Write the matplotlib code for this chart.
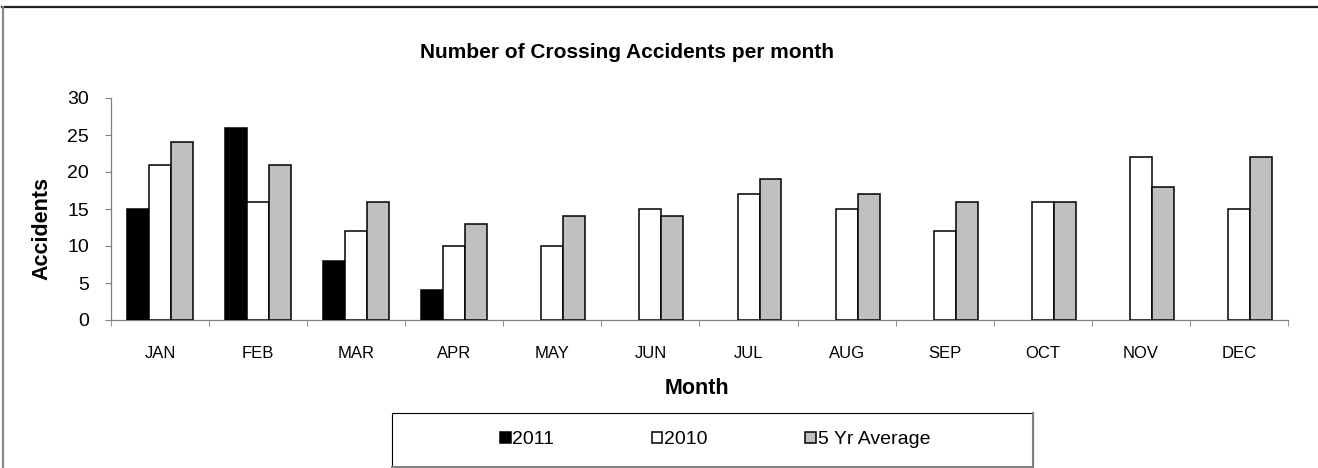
import numpy as np
import matplotlib
matplotlib.use("Agg")
import matplotlib.pyplot as plt
from matplotlib.patches import Rectangle
from matplotlib.lines import Line2D

plt.rcParams['font.family'] = ['Liberation Sans', 'DejaVu Sans']

# data
months = ['JAN', 'FEB', 'MAR', 'APR', 'MAY', 'JUN', 'JUL', 'AUG', 'SEP', 'OCT', 'NOV', 'DEC']
y2011 = [15, 26, 8, 4, None, None, None, None, None, None, None, None]
y2010 = [21, 16, 12, 10, 10, 15, 17, 15, 12, 16, 22, 15]
avg5 = [24, 21, 16, 13, 14, 14, 19, 17, 16, 16, 18, 22]
series_names = ['2011', '2010', '5 Yr Average']

W, H = 1318, 468
fig = plt.figure(figsize=(W / 100, H / 100), dpi=100)

def fx(px):
    return px / W

def fy(py):
    return 1 - py / H

ax = fig.add_axes([fx(111), fy(320), fx(1288) - fx(111), fy(98) - fy(320)])

x = np.arange(len(months))
bw = 0.224
vals = [np.array([np.nan if v is None else v for v in s], dtype=float) for s in (y2011, y2010, avg5)]
colors = ['black', 'white', '#C0C0C0']
bars = []
for i, (v, c) in enumerate(zip(vals, colors)):
    b = ax.bar(x + (i - 1) * bw, v, bw, color=c, edgecolor='black', linewidth=1.1,
               label=series_names[i], zorder=3)
    bars.append(b)

ax.set_xlim(-0.5, len(months) - 0.5)
ax.set_ylim(0, 30)
ax.set_yticks(range(0, 31, 5))
ax.set_xticks(x)
ax.set_xticklabels(months)
ax.set_xticks(np.arange(-0.5, len(months)), minor=True)

for s in ['top', 'right']:
    ax.spines[s].set_visible(False)
for s in ['left', 'bottom']:
    ax.spines[s].set_color('#808080')
    ax.spines[s].set_linewidth(0.9)

ax.tick_params(axis='x', which='major', length=0, pad=19, labelsize=12)
ax.tick_params(axis='x', which='minor', length=4, color='#808080', direction='out')
ax.tick_params(axis='y', length=4, color='#808080', direction='out', pad=12, labelsize=14)

# titles
fig.text(fx(627), fy(53), 'Number of Crossing Accidents per month', ha='center', va='center',
         fontsize=15, fontweight='bold')
fig.text(fx(697), fy(388), 'Month', ha='center', va='center', fontsize=15.5, fontweight='bold')
fig.text(fx(42), fy(228), 'Accidents', ha='center', va='center', rotation=90,
         fontsize=15.5, fontweight='bold')

# legend box
fig.patches.append(Rectangle((fx(392), fy(467)), fx(1033) - fx(392), fy(413) - fy(467),
                             transform=fig.transFigure, facecolor='white', edgecolor='black',
                             linewidth=0.8, zorder=1))
fig.lines.append(Line2D([fx(1033), fx(1033), fx(392)], [fy(413), fy(467), fy(467)],
                        transform=fig.transFigure, color='#808080', linewidth=1.5))
leg = fig.legend(handles=bars, labels=series_names, loc='center', ncol=3,
                 bbox_to_anchor=(fx(715), fy(440)), frameon=False, fontsize=14,
                 handlelength=0.55, handleheight=0.55, handletextpad=0.1, columnspacing=5.0)

# figure border (top and left only visible)
fig.lines.append(Line2D([fx(2), fx(1318)], [fy(7), fy(7)], transform=fig.transFigure,
                        color='#222222', linewidth=1.6))
fig.lines.append(Line2D([fx(2.5), fx(2.5)], [fy(7), fy(468)], transform=fig.transFigure,
                        color='#888888', linewidth=1.6))

fig.savefig('out.png', dpi=100)
